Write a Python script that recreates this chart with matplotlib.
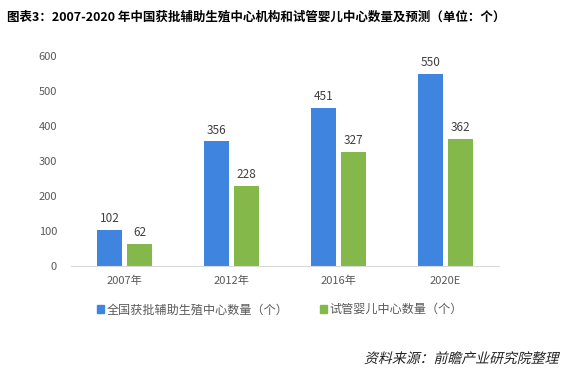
import numpy as np
import matplotlib.pyplot as plt
import matplotlib.transforms as mtransforms
from matplotlib.patches import Patch, PathPatch
from matplotlib.textpath import TextPath
from matplotlib.font_manager import FontProperties

plt.rcParams['font.family'] = ['Noto Sans CJK SC', 'DejaVu Sans']

years = ['2007年', '2012年', '2016年', '2020E']
assisted = [102, 356, 451, 550]
ivf = [62, 228, 327, 362]
series_names = ['全国获批辅助生殖中心数量（个）', '试管婴儿中心数量（个）']
source = '资料来源：前瞻产业研究院整理'

blue = '#3F85E0'
green = '#84B84A'
text_c = '#595959'

fig = plt.figure(figsize=(5.68, 3.74), dpi=100)
ax = fig.add_axes([0.125, 0.289, 0.7535, 0.561])

x = np.arange(len(years))
w = 0.225
off = 0.14
b1 = ax.bar(x - off, assisted, w, color=blue)
b2 = ax.bar(x + off, ivf, w, color=green)

for bars in (b1, b2):
    for r in bars:
        ax.text(r.get_x() + r.get_width() / 2, r.get_height() + 14, str(int(r.get_height())),
                ha='center', va='bottom', fontsize=8.5, color='#404040')

ax.set_xlim(-0.5, len(years) - 0.5)
ax.set_ylim(0, 600)
ax.set_yticks(range(0, 601, 100))
ax.set_xticks(x)
ax.set_xticklabels(years)
ax.tick_params(axis='both', length=0, labelsize=8, colors=text_c)
ax.tick_params(axis='y', pad=10)
ax.tick_params(axis='x', pad=7)
for s in ['top', 'right', 'left']:
    ax.spines[s].set_visible(False)
ax.spines['bottom'].set_color('#D9D9D9')

handles = [Patch(color=blue), Patch(color=green)]
fig.legend(handles, series_names, loc='center left', bbox_to_anchor=(0.152, 0.172),
           ncol=2, frameon=False, fontsize=8.7, handlelength=0.55, handleheight=0.55,
           handletextpad=0.25, columnspacing=2.6, labelcolor=text_c)

fig.text(0.012, 0.953, '图表3：2007-2020 年中国获批辅助生殖中心机构和试管婴儿中心数量及预测（单位：个）',
         fontsize=9, fontweight='bold', ha='left', va='center', color='black')

# source line in slanted style (CJK font has no italic face)
fp = FontProperties(family='Noto Sans CJK SC')
tp = TextPath((0, 0), source, size=10, prop=fp)
ext = tp.get_extents()
k = fig.dpi / 72
tr = (mtransforms.Affine2D().skew_deg(14, 0).scale(k)
      .translate(560 - ext.x1 * k - 2, 11))
fig.add_artist(PathPatch(tp, transform=tr, color='#222222', lw=0))

fig.savefig('out.png', dpi=100)
